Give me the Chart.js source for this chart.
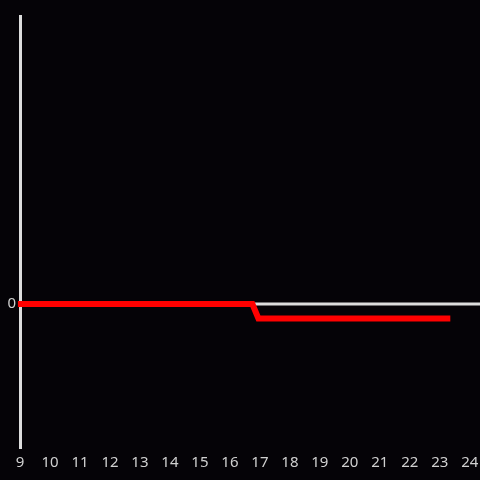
<!DOCTYPE html>
<html>
<head>
<meta charset="utf-8">
<script src="https://cdn.jsdelivr.net/npm/chart.js@4"></script>
<style>
  html, body { margin: 0; padding: 0; background: #050307; }
  #wrap { width: 480px; height: 480px; }
</style>
</head>
<body>
<div id="wrap"><canvas id="grafiek"></canvas></div>
<script>
// Data
const uren = [8.93, 16.75, 16.95, 23.35];
const waarden = [0, 0, -0.1, -0.1];
const nulUren = [9, 24.34];
const nulWaarden = [0, 0];

const rood = uren.map((x, i) => ({ x: x, y: waarden[i] }));
const nullijn = nulUren.map((x, i) => ({ x: x, y: nulWaarden[i] }));

const ctx = document.getElementById('grafiek').getContext('2d');
new Chart(ctx, {
    type: 'scatter',
    data: {
        datasets: [
            { data: rood, showLine: true, borderColor: '#ff0000', borderWidth: 6,
              pointRadius: 0, borderCapStyle: 'butt', clip: false, order: 0 },
            { data: nullijn, showLine: true, borderColor: '#dddddd', borderWidth: 3,
              pointRadius: 0, order: 1 }
        ]
    },
    options: {
        responsive: true,
        maintainAspectRatio: false,
        animation: false,
        layout: { padding: { top: 16, right: -4, left: 0, bottom: 0 } },
        plugins: { legend: { display: false }, tooltip: { enabled: false } },
        scales: {
            x: {
                type: 'linear', min: 9, max: 24.34,
                grid: { display: false },
                border: { display: false },
                ticks: { stepSize: 1, includeBounds: false, color: '#d0d0d0', padding: -2,
                         font: { family: 'Noto Sans', size: 15 } },
                afterFit: (s) => { s.height = 32; }
            },
            y: {
                min: -1, max: 2, z: 1,
                grid: { display: false },
                border: { display: true, color: '#dddddd', width: 3 },
                afterBuildTicks: (s) => { s.ticks = [{ value: 0 }]; },
                ticks: { color: '#d0d0d0', padding: -4,
                         font: { family: 'Noto Sans', size: 15 } },
                afterFit: (s) => { s.width = 20; }
            }
        }
    }
});
</script>
</body>
</html>
